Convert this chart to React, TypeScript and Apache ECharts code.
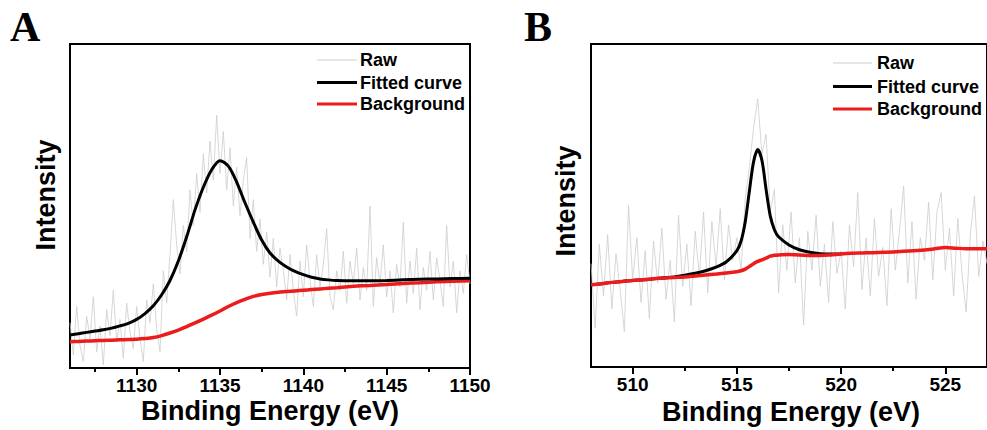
import React, { useEffect, useRef } from "react";
import * as echarts from "echarts";

// ---------- Panel A (1126–1150 eV) ----------
const energiesA = [1126, 1126.5, 1127, 1127.5, 1128, 1128.5, 1129, 1129.5, 1130, 1130.5, 1131, 1131.5, 1132, 1132.5, 1133, 1133.5, 1134, 1134.5, 1135, 1135.5, 1136, 1136.5, 1137, 1137.5, 1138, 1138.5, 1139, 1139.5, 1140, 1140.5, 1141, 1141.5, 1142, 1143, 1144, 1145, 1146, 1147, 1148, 1149, 1150];
const fitA = [10.2, 10.6, 11.0, 11.4, 11.8, 12.3, 13.0, 13.8, 15.0, 16.8, 19.2, 22.6, 27.0, 33.0, 40.5, 48.8, 55.8, 61.2, 64.0, 62.3, 57.4, 51.0, 45.0, 39.5, 35.5, 33.0, 31.2, 29.8, 28.8, 28.0, 27.5, 27.2, 27.0, 26.9, 26.9, 27.0, 27.2, 27.4, 27.5, 27.6, 27.7];
const backgroundA = [8.1, 8.2, 8.3, 8.4, 8.5, 8.6, 8.7, 8.8, 8.9, 9.1, 9.4, 10.0, 10.8, 11.7, 12.8, 13.9, 15.1, 16.3, 17.6, 19.0, 20.2, 21.2, 22.1, 22.7, 23.1, 23.4, 23.6, 23.8, 24.0, 24.2, 24.4, 24.6, 24.8, 25.2, 25.5, 25.8, 26.1, 26.3, 26.6, 26.8, 26.9];
const rawStartA = 1126;
const rawStepA = 0.2;
const rawA = [
  14, 4, 19, 7, 2, 16, 9, 22, 5, 13,
  1, 18, 10, 24, 8, 15, 3, 20, 11, 6,
  19, 9, 2, 21, 14, 26, 12, 5, 30, 20,
  35, 52, 38, 29, 44, 36, 55, 44, 60, 48,
  66, 54, 70, 58, 78, 60, 73, 55, 68, 50,
  62, 47, 58, 65, 40, 52, 36, 46, 32, 42,
  28, 40, 25, 37, 30, 21, 35, 24, 16, 33,
  22, 38, 27, 19, 35, 25, 32, 43, 22, 18,
  30, 24, 36, 20, 33, 26, 37, 21, 31, 24,
  50, 19, 34, 26, 38, 22, 30, 17, 32, 25,
  45, 20, 33, 23, 37, 18, 31, 24, 36, 21,
  34, 27, 19, 44, 25, 33, 17, 30, 23, 35,
  26,
];
const majorTicksA = [1130, 1135, 1140, 1145, 1150];
const allTicksA = [1127.5, 1130, 1132.5, 1135, 1137.5, 1140, 1142.5, 1145, 1147.5, 1150];

// ---------- Panel B (508–527 eV) ----------
const fitEnergiesB = [508, 508.5, 509, 509.5, 510, 510.5, 511, 511.5, 512, 512.5, 513, 513.5, 514, 514.5, 515, 515.2, 515.4, 515.6, 515.8, 516, 516.2, 516.4, 516.6, 516.8, 517, 517.5, 518, 518.5, 519, 519.5, 520];
const fitB = [25.5, 25.8, 26.2, 26.5, 26.8, 27.0, 27.3, 27.6, 27.9, 28.4, 29.0, 29.8, 30.9, 32.6, 36.0, 39.0, 45.0, 54.5, 63.5, 67.3, 64.0, 55.0, 46.8, 42.5, 40.3, 37.8, 36.3, 35.5, 35.1, 35.0, 35.0];
const bgEnergiesB = [508, 508.5, 509, 509.5, 510, 510.5, 511, 511.5, 512, 512.5, 513, 513.5, 514, 514.5, 515, 515.2, 515.4, 515.6, 515.8, 516, 516.2, 516.4, 516.6, 516.8, 517, 517.5, 518, 518.5, 519, 519.5, 520, 520.5, 521, 521.5, 522, 522.5, 523, 523.5, 524, 524.5, 525, 525.5, 526, 526.5, 527];
const backgroundB = [25.5, 25.8, 26.2, 26.5, 26.8, 27.0, 27.3, 27.5, 27.7, 27.9, 28.2, 28.5, 28.8, 29.1, 29.5, 29.8, 30.3, 31.1, 32.0, 32.7, 33.2, 33.7, 34.3, 34.6, 34.7, 34.8, 34.7, 34.5, 34.5, 34.7, 35.0, 35.2, 35.3, 35.4, 35.5, 35.6, 35.8, 36.0, 36.2, 36.6, 37.0, 36.8, 36.6, 36.6, 36.6];
const rawStartB = 508;
const rawStepB = 0.2;
const rawB = [
  32, 12, 38, 22, 41, 18, 35, 24, 11, 50,
  27, 40, 20, 36, 15, 39, 26, 43, 21, 33,
  14, 47, 25, 38, 19, 42, 28, 48, 23, 45,
  31, 49, 27, 44, 33, 40, 30, 52, 62, 74,
  83, 66, 72, 48, 55, 23, 44, 30, 48, 26,
  40, 13, 42, 30, 47, 25, 38, 20, 45, 29,
  36, 18, 44, 31, 54, 24, 40, 22, 46, 28,
  37, 19, 49, 30, 42, 56, 26, 45, 21, 40,
  33, 51, 27, 48, 54, 30, 43, 22, 46, 29,
  17, 41, 53, 28, 39, 32,
];
const majorTicksB = [510, 515, 520, 525];
const allTicksB = [510, 512.5, 515, 517.5, 520, 522.5, 525];

const legendNames = ["Raw", "Fitted curve", "Background"];
const panelLetters = ["A", "B"];
const xTitle = "Binding Energy (eV)";
const yTitle = "Intensity";

const SANS = '"Liberation Sans", Arial, Helvetica, sans-serif';
const SERIF = '"Liberation Serif", "Times New Roman", serif';
const RAW_COLOR = "#cdcdcd";
const FIT_COLOR = "#000000";
const BG_COLOR = "#ec1c1c";

export default function App() {
  const ref = useRef<HTMLDivElement>(null);

  useEffect(() => {
    if (!ref.current) return;
    const chart = echarts.init(ref.current, null, { renderer: "svg" });

    const pairs = (xs: number[], ys: number[]) => xs.map((x, i) => [x, ys[i]]);
    const rawPairs = (start: number, step: number, ys: number[]) =>
      ys.map((y, i) => [Math.round((start + i * step) * 100) / 100, y]);

    // labelled axis: carries labels and every tick (minor length)
    const labelAxis = (gridIndex: number, min: number, max: number, labels: number[], ticks: number[]) => ({
      type: "value",
      gridIndex,
      min,
      max,
      position: "bottom",
      axisLine: { show: true, onZero: false, lineStyle: { color: "#000", width: 2 } },
      axisTick: { show: true, inside: false, length: 4, lineStyle: { color: "#000", width: 2 }, customValues: ticks },
      axisLabel: {
        show: true,
        customValues: labels,
        formatter: (v: number) => String(v),
        margin: 8,
        color: "#000",
        fontSize: 19,
        fontWeight: "bold",
        fontFamily: SANS,
      },
      splitLine: { show: false },
    });
    // companion axis: longer major ticks only
    const majorTickAxis = (gridIndex: number, min: number, max: number, ticks: number[]) => ({
      type: "value",
      gridIndex,
      min,
      max,
      position: "bottom",
      axisLine: { show: true, onZero: false, lineStyle: { color: "#000", width: 2 } },
      axisTick: { show: true, inside: false, length: 7, lineStyle: { color: "#000", width: 2 }, customValues: ticks },
      axisLabel: { show: false, customValues: ticks },
      splitLine: { show: false },
    });
    const yAxis = (gridIndex: number) => ({
      type: "value",
      gridIndex,
      min: 0,
      max: 100,
      axisLine: { show: false },
      axisTick: { show: false },
      axisLabel: { show: false },
      splitLine: { show: false },
    });

    const lineSeries = (
      name: string,
      xAxisIndex: number,
      yAxisIndex: number,
      data: number[][],
      color: string,
      width: number,
      smooth: number | boolean,
      z: number
    ) => ({
      name,
      type: "line",
      xAxisIndex,
      yAxisIndex,
      data,
      symbol: "none",
      smooth,
      z,
      silent: true,
      lineStyle: { color, width },
      itemStyle: { color },
    });

    const legendGraphic = (lineX1: number, lineX2: number, textX: number, ys: number[]) => {
      const colors = [RAW_COLOR, FIT_COLOR, BG_COLOR];
      const widths = [1, 3, 3];
      const out: any[] = [];
      legendNames.forEach((n, i) => {
        out.push({
          type: "line",
          shape: { x1: lineX1, y1: ys[i], x2: lineX2, y2: ys[i] },
          style: { stroke: colors[i], lineWidth: widths[i] },
          silent: true,
        });
        out.push({
          type: "text",
          x: textX,
          y: ys[i],
          style: {
            text: n,
            fill: "#000",
            font: `bold 18px ${SANS}`,
            align: "left",
            verticalAlign: "middle",
          },
          silent: true,
        });
      });
      return out;
    };

    const textEl = (text: string, x: number, y: number, font: string, rotation = 0, align = "center") => ({
      type: "text",
      x,
      y,
      rotation,
      style: { text, fill: "#000", font, align, verticalAlign: "middle" },
      silent: true,
    });

    const option: any = {
      animation: false,
      backgroundColor: "#ffffff",
      grid: [
        { left: 70, top: 44, width: 400, height: 324, show: true, borderColor: "#000", borderWidth: 2, backgroundColor: "transparent" },
        { left: 591, top: 44, width: 400, height: 323, show: true, borderColor: "#000", borderWidth: 2, backgroundColor: "transparent" },
      ],
      xAxis: [
        labelAxis(0, 1126, 1150, majorTicksA, allTicksA),
        majorTickAxis(0, 1126, 1150, majorTicksA),
        labelAxis(1, 508, 527, majorTicksB, allTicksB),
        majorTickAxis(1, 508, 527, majorTicksB),
      ],
      yAxis: [yAxis(0), yAxis(1)],
      series: [
        lineSeries(legendNames[0], 0, 0, rawPairs(rawStartA, rawStepA, rawA), RAW_COLOR, 0.8, false, 1),
        lineSeries(legendNames[1], 0, 0, pairs(energiesA, fitA), FIT_COLOR, 3, 0.3, 3),
        lineSeries(legendNames[2], 0, 0, pairs(energiesA, backgroundA), BG_COLOR, 3.5, 0.3, 2),
        lineSeries(legendNames[0], 2, 1, rawPairs(rawStartB, rawStepB, rawB), RAW_COLOR, 0.8, false, 1),
        lineSeries(legendNames[1], 2, 1, pairs(fitEnergiesB, fitB), FIT_COLOR, 3, 0.3, 2),
        lineSeries(legendNames[2], 2, 1, pairs(bgEnergiesB, backgroundB), BG_COLOR, 3.5, 0.3, 3),
      ],
      graphic: [
        textEl(panelLetters[0], 10, 27, `bold 42px ${SERIF}`, 0, "left"),
        textEl(panelLetters[1], 524, 27, `bold 42px ${SERIF}`, 0, "left"),
        textEl(yTitle, 46, 195, `bold 27px ${SANS}`, Math.PI / 2),
        textEl(yTitle, 566, 201, `bold 27px ${SANS}`, Math.PI / 2),
        textEl(xTitle, 270, 411, `bold 27px ${SANS}`),
        textEl(xTitle, 791, 412, `bold 27px ${SANS}`),
        ...legendGraphic(317, 357, 360, [60, 82.5, 104]),
        ...legendGraphic(833, 872, 877, [63, 86.5, 109]),
      ],
    };

    chart.setOption(option);
    return () => chart.dispose();
  }, []);

  return (
    <div style={{ position: "fixed", left: 0, top: 0, width: 987, height: 430, background: "#fff", overflow: "hidden" }}>
      <div ref={ref} style={{ width: 987, height: 430 }} />
    </div>
  );
}
